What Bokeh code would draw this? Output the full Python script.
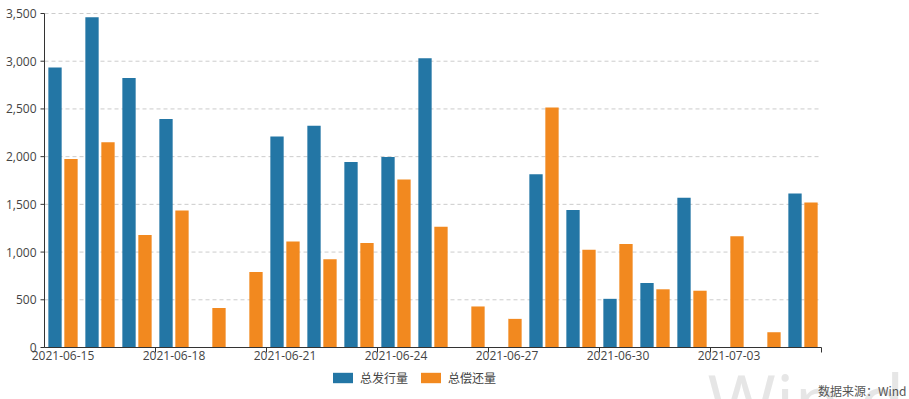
from bokeh.plotting import figure
from bokeh.models import ColumnDataSource, Range1d, Legend, LegendItem, Label
from bokeh.core.properties import value
from bokeh.transform import dodge
from bokeh.embed import file_html
from bokeh.resources import INLINE

dates = ["2021-06-15", "2021-06-16", "2021-06-17", "2021-06-18", "2021-06-19", "2021-06-20",
         "2021-06-21", "2021-06-22", "2021-06-23", "2021-06-24", "2021-06-25", "2021-06-26",
         "2021-06-27", "2021-06-28", "2021-06-29", "2021-06-30", "2021-07-01", "2021-07-02",
         "2021-07-03", "2021-07-04", "2021-07-05"]
issue = [2935, 3460, 2825, 2395, 0, 0, 2210, 2325, 1945, 1995, 3030, 0, 0,
         1815, 1440, 510, 675, 1570, 0, 0, 1615]
repay = [1975, 2150, 1180, 1435, 415, 790, 1110, 925, 1095, 1760, 1265, 430, 300,
         2515, 1025, 1085, 610, 595, 1165, 160, 1520]
series_names = ["总发行量", "总偿还量"]
y_ticks = [0, 500, 1000, 1500, 2000, 2500, 3000, 3500]
label_every = 3
source_text = "数据来源：Wind"
watermark_text = "Win.d"

BLUE = "#2376a5"
ORANGE = "#f2891f"
AXIS = "#333333"
TXT = "#444444"
LATIN = "Open Sans"
CJK = "Noto Sans CJK SC"

# ---- page geometry (pixels) ----
W, H = 909, 399
PLOT_L, PLOT_R, PLOT_T, PLOT_B = 44, 821, 13, 347
n = len(dates)
Y_MAX = y_ticks[-1]
ppc = (PLOT_R - PLOT_L) / n            # pixels per category
upp = Y_MAX / (PLOT_B - PLOT_T)        # data units per pixel (y)
x0, x1 = -0.5, n - 0.5                 # plot-area extent in data units

x_range = Range1d(x0 - PLOT_L / ppc, x1 + (W - PLOT_R) / ppc)
y_range = Range1d(-(H - PLOT_B) * upp, Y_MAX + PLOT_T * upp)

idx = list(range(n))
src = ColumnDataSource(dict(idx=idx, issue=issue, repay=repay))

p = figure(width=W, height=H, output_backend="svg", toolbar_location=None,
           x_range=x_range, y_range=y_range,
           x_axis_location=None, y_axis_location=None,
           min_border=0, min_border_left=0, min_border_right=0,
           min_border_top=0, min_border_bottom=0)
p.outline_line_color = None
p.background_fill_color = "white"
p.border_fill_color = "white"
p.xgrid.visible = False
p.ygrid.visible = False

# watermark (behind everything)
p.add_layout(Label(x=707, y=0, x_units="screen", y_units="screen", text=watermark_text,
                   text_font=LATIN, text_font_size="74px", text_color="#e6e6e6",
                   text_baseline="alphabetic", level="underlay"))

# horizontal dashed grid lines
g = y_ticks[1:]
p.segment(x0=[x0] * len(g), y0=g, x1=[x1] * len(g), y1=g,
          line_color="#cccccc", line_width=1, line_dash="4 3")

# bars
r1 = p.vbar(x=dodge("idx", -0.216, range=x_range), top="issue", width=0.36, source=src,
            fill_color=BLUE, line_color=None)
r2 = p.vbar(x=dodge("idx", 0.216, range=x_range), top="repay", width=0.36, source=src,
            fill_color=ORANGE, line_color=None)

# category axis
p.segment(x0=[x0], y0=[0], x1=[x1], y1=[0], line_color=AXIS, line_width=1)
label_pos = idx[::label_every]
boundary = [i + 1.5 for i in idx[1::label_every] if i + 1.5 < n]
p.segment(x0=boundary, y0=[0] * len(boundary), x1=boundary, y1=[-5 * upp] * len(boundary),
          line_color=AXIS, line_width=1)
p.text(x=label_pos, y=[-3 * upp] * len(label_pos), text=[dates[i] for i in label_pos],
       text_font=value(LATIN), text_font_size="12px", text_color=TXT,
       text_align="center", text_baseline="top")

# value axis
p.segment(x0=[x0], y0=[0], x1=[x0], y1=[Y_MAX], line_color=AXIS, line_width=1)
p.segment(x0=[x0 - 4 / ppc] * len(y_ticks), y0=y_ticks, x1=[x0] * len(y_ticks), y1=y_ticks,
          line_color=AXIS, line_width=1)
p.text(x=[x0] * len(y_ticks), y=y_ticks, text=[f"{v:,}" for v in y_ticks],
       x_offset=-8, text_font=value(LATIN), text_font_size="12px", text_color=TXT,
       text_align="right", text_baseline="middle")

legend = Legend(items=[LegendItem(label=series_names[0], renderers=[r1]),
                       LegendItem(label=series_names[1], renderers=[r2])],
                location=(330, 13), orientation="horizontal",
                glyph_width=25, glyph_height=13, label_height=13, label_standoff=5,
                spacing=10, padding=0, margin=0,
                border_line_color=None, background_fill_alpha=0,
                label_text_font=CJK, label_text_font_size="12px",
                label_text_color=TXT)
p.add_layout(legend, "center")

p.add_layout(Label(x=906, y=9, x_units="screen", y_units="screen", text=source_text,
                   text_font=CJK, text_font_size="12px", text_color="#555555",
                   text_align="right", text_baseline="alphabetic"))

open("out.html", "w").write(file_html(p, INLINE))
